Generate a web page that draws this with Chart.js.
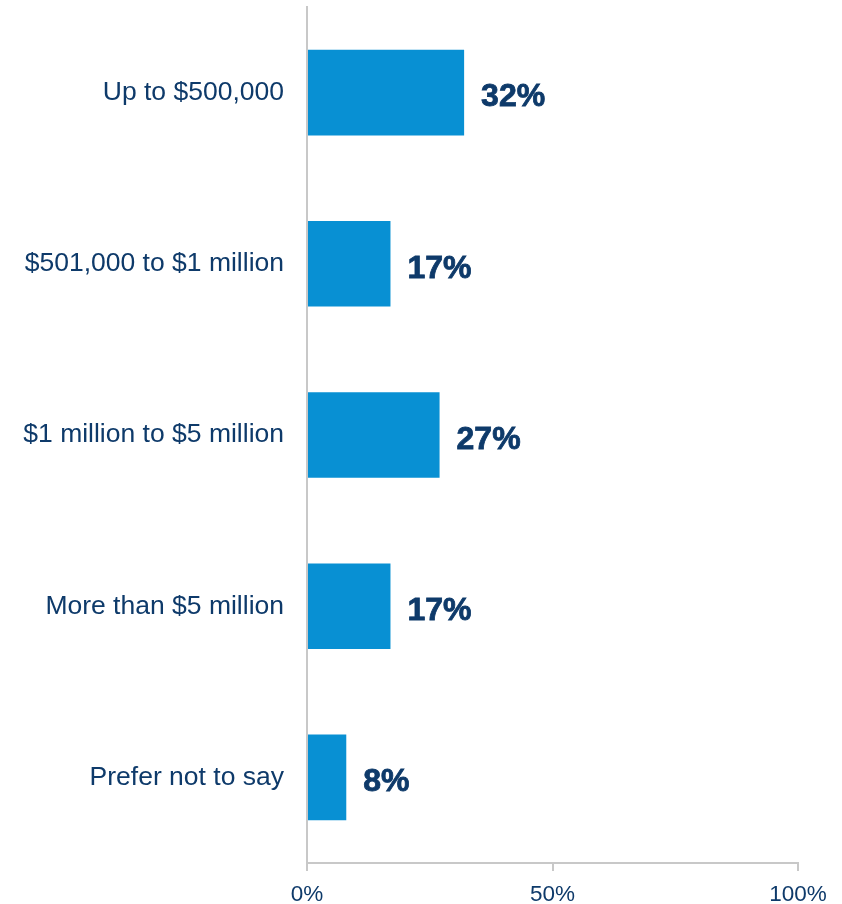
<!DOCTYPE html>
<html lang="en">
<head>
<meta charset="utf-8">
<script src="https://cdn.jsdelivr.net/npm/chart.js"></script>
<style>
  html, body { margin: 0; padding: 0; background: #fff; }
  .chart-box { width: 842px; height: 904px; }
</style>
</head>
<body>

<div class="chart-box">
  <canvas id="incomeChart"></canvas>
</div>

<script>
    // survey answers and share of respondents (%)
    const categories = [
        "Up to $500,000",
        "$501,000 to $1 million",
        "$1 million to $5 million",
        "More than $5 million",
        "Prefer not to say"
    ];
    const shares = [32, 17, 27, 17, 8];
    const xTicks = [0, 50, 100];

    const navy = '#0e3a6a';
    const axisGrey = '#c8c8c8';
    const fontFamily = '"Liberation Sans", Arial, sans-serif';

    // writes the percentage just past the end of each bar
    const valueLabels = {
        id: 'valueLabels',
        afterDatasetsDraw(chart) {
            const ctx = chart.ctx;
            const meta = chart.getDatasetMeta(0);
            ctx.save();
            ctx.font = 'bold 32px ' + fontFamily;
            ctx.fillStyle = navy;
            ctx.strokeStyle = navy;
            ctx.lineWidth = 0.8;
            ctx.textAlign = 'left';
            ctx.textBaseline = 'middle';
            meta.data.forEach((bar, i) => {
                const txt = shares[i] + '%';
                ctx.fillText(txt, bar.x + 17, bar.y + 5);
                ctx.strokeText(txt, bar.x + 17, bar.y + 5);
            });
            ctx.restore();
        }
    };

    var ctx = document.getElementById('incomeChart').getContext('2d');
    var incomeChart = new Chart(ctx, {
        type: 'bar',
        data: {
            labels: categories,
            datasets: [{
                data: shares,
                backgroundColor: '#0890d3',
                barPercentage: 0.5,
                categoryPercentage: 1.0
            }]
        },
        options: {
            indexAxis: 'y',
            responsive: true,
            maintainAspectRatio: false,
            animation: false,
            layout: { padding: { top: 7, right: 44, left: 0, bottom: 0 } },
            plugins: {
                legend: { display: false },
                tooltip: { enabled: false }
            },
            scales: {
                x: {
                    min: 0,
                    max: 100,
                    afterBuildTicks(scale) {
                        scale.ticks = xTicks.map(v => ({ value: v }));
                    },
                    afterFit(scale) { scale.height = 41; },
                    grid: {
                        drawOnChartArea: false,
                        drawTicks: true,
                        tickLength: 8,
                        tickColor: axisGrey,
                        lineWidth: 2
                    },
                    border: { display: true, color: axisGrey, width: 2 },
                    ticks: {
                        padding: 10,
                        color: navy,
                        font: { family: fontFamily, size: 22.5 },
                        callback: v => v + '%'
                    }
                },
                y: {
                    afterFit(scale) {
                        scale.width = 307;
                        scale.paddingTop = 0;
                        scale.paddingBottom = 0;
                    },
                    grid: { display: false },
                    border: { display: true, color: axisGrey, width: 2 },
                    ticks: {
                        padding: 15,
                        color: navy,
                        font: { family: fontFamily, size: 26.5 }
                    }
                }
            }
        },
        plugins: [valueLabels]
    });
</script>
</body>
</html>
